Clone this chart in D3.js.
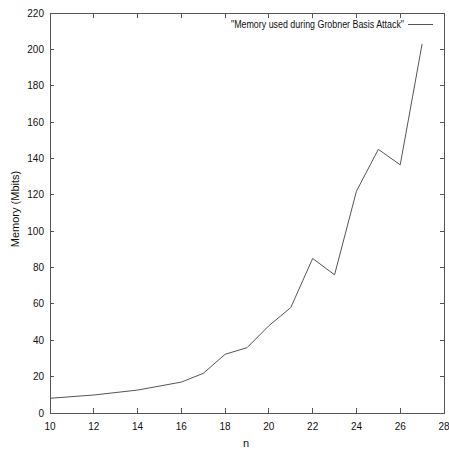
<!DOCTYPE html>
<html>
<head>
<meta charset="utf-8">
<script src="https://cdn.jsdelivr.net/npm/d3@7"></script>
<style>
  body { margin: 0; background: #fff; }
  svg { display: block; font-family: "Liberation Sans", Arial, sans-serif; }
</style>
</head>
<body>
<svg id="chart" width="449" height="450"></svg>
<script>
// data
let nValues = [10, 12, 14, 16, 17, 18, 19, 20, 21, 22, 23, 24, 25, 26, 27];
let memory = [8.1, 9.9, 12.6, 17, 21.8, 32.3, 35.9, 48, 58, 85, 76, 122, 145, 136.5, 203];
let xTicks = [10, 12, 14, 16, 18, 20, 22, 24, 26, 28];
let yTicks = [0, 20, 40, 60, 80, 100, 120, 140, 160, 180, 200, 220];
let seriesName = "\"Memory used during Grobner Basis Attack\"";

let svg = d3.select("#chart");
let margin = {top: 13, right: 5, bottom: 37, left: 50};
let width = 449 - margin.left - margin.right;
let height = 450 - margin.top - margin.bottom;
let axisColor = "#555";

let x = d3.scaleLinear().domain([10, 28]).range([margin.left, margin.left + width]);
let y = d3.scaleLinear().domain([0, 220]).range([margin.top + height, margin.top]);

// frame
svg.append("rect")
    .attr("x", x(10)).attr("y", y(220))
    .attr("width", x(28) - x(10)).attr("height", y(0) - y(220))
    .attr("fill", "none").attr("stroke", axisColor).attr("stroke-width", 1)
    .attr("shape-rendering", "crispEdges");

// inward ticks on all sides
let tickG = svg.append("g").attr("stroke", axisColor).attr("shape-rendering", "crispEdges");
xTicks.forEach(function (t) {
    tickG.append("line").attr("x1", x(t)).attr("x2", x(t)).attr("y1", y(0)).attr("y2", y(0) - 5);
    tickG.append("line").attr("x1", x(t)).attr("x2", x(t)).attr("y1", y(220)).attr("y2", y(220) + 5);
});
yTicks.forEach(function (t) {
    tickG.append("line").attr("x1", x(10)).attr("x2", x(10) + 4).attr("y1", y(t)).attr("y2", y(t));
    tickG.append("line").attr("x1", x(28)).attr("x2", x(28) - 4).attr("y1", y(t)).attr("y2", y(t));
});

// tick labels
svg.append("g").selectAll("text").data(xTicks).enter().append("text")
    .attr("x", d => x(d)).attr("y", y(0) + 17)
    .attr("text-anchor", "middle").attr("font-size", 10).attr("fill", "#111")
    .text(d => d);
svg.append("g").selectAll("text").data(yTicks).enter().append("text")
    .attr("x", x(10) - 6).attr("y", d => y(d) + 3.5)
    .attr("text-anchor", "end").attr("font-size", 10).attr("fill", "#111")
    .text(d => d);

// axis titles
svg.append("text")
    .attr("x", 246).attr("y", 447)
    .attr("text-anchor", "middle").attr("font-size", 11).attr("fill", "#111")
    .text("n");
svg.append("text")
    .attr("transform", "translate(18.5,209) rotate(-90)")
    .attr("text-anchor", "middle").attr("font-size", 11).attr("fill", "#111")
    .text("Memory (Mbits)");

// series line
let line = d3.line()
    .x((d, i) => x(nValues[i]))
    .y(d => y(d));
svg.append("path")
    .datum(memory)
    .attr("d", line)
    .attr("fill", "none")
    .attr("stroke", "#555")
    .attr("stroke-width", 1);

// legend
svg.append("text")
    .attr("x", 404).attr("y", 28)
    .attr("text-anchor", "end").attr("font-size", 10).attr("fill", "#111")
    .attr("textLength", 173).attr("lengthAdjust", "spacingAndGlyphs")
    .text(seriesName);
svg.append("line")
    .attr("x1", 408).attr("x2", 433).attr("y1", 24.5).attr("y2", 24.5)
    .attr("stroke", "#555").attr("stroke-width", 1);
</script>
</body>
</html>
